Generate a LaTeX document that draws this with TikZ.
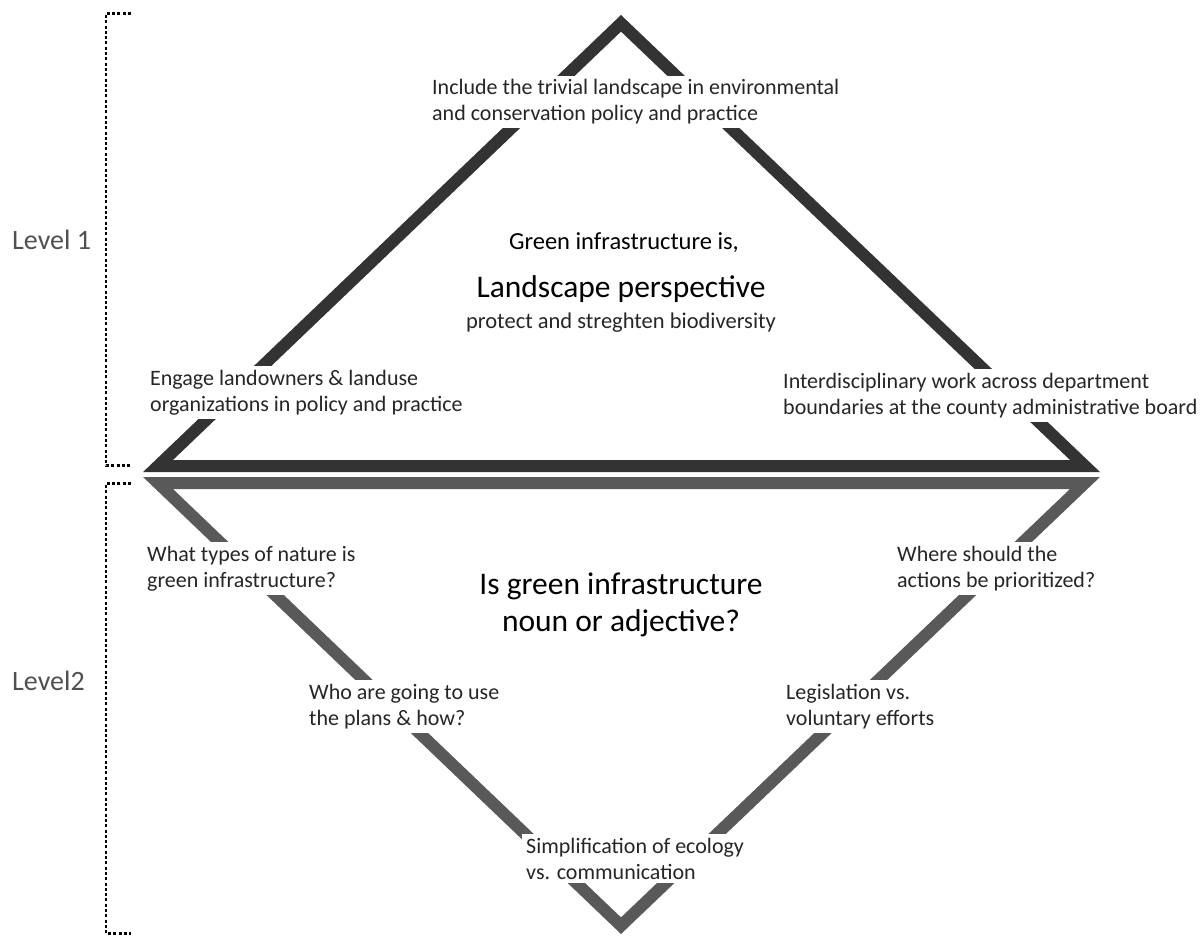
\documentclass[tikz,border=0pt]{standalone}
\usepackage{fontspec}
\setmainfont{Carlito}
\definecolor{topc}{HTML}{333333}
\definecolor{botc}{HTML}{595959}
\definecolor{txtc}{HTML}{262626}
\definecolor{lvlc}{HTML}{505050}
\begin{document}
\begin{tikzpicture}[x=1pt,y=-1pt,
  tri/.style={line width=12pt, line join=miter, miter limit=20},
  txt/.style={font=\fontsize{22}{25.5}\selectfont, text=txtc, align=left, fill=white, inner sep=4pt, anchor=base west},
  big/.style={font=\fontsize{31.5}{37}\selectfont, text=black, align=center, anchor=base},
  lvl/.style={font=\fontsize{28}{32}\selectfont, text=lvlc, anchor=base west, inner sep=0pt},
  brk/.style={line width=2.8pt, dash pattern=on 3pt off 2.3pt, black}]
\useasboundingbox (0,0) rectangle (1203,936);
% triangles
\coordinate (TA) at (621,23.3);
\coordinate (TL) at (158,466);
\coordinate (TR) at (1085,466);
\coordinate (BA) at (621,925.7);
\coordinate (BL) at (158,483);
\coordinate (BR) at (1085,483);
\draw[tri, topc] (TA) -- (TR) -- (TL) -- cycle;
\draw[tri, botc] (BA) -- (BL) -- (BR) -- cycle;
% brackets
\coordinate (L1a) at (131,13.5);
\coordinate (L1b) at (106,13.5);
\coordinate (L1c) at (106,465.5);
\coordinate (L1d) at (131,465.5);
\coordinate (L2a) at (131,483.5);
\coordinate (L2b) at (106,483.5);
\coordinate (L2c) at (106,933.5);
\coordinate (L2d) at (131,933.5);
\draw[brk] (L1a) -- (L1b) -- (L1c) -- (L1d);
\draw[brk] (L2a) -- (L2b) -- (L2c) -- (L2d);
\node[lvl] (lev1) at (12,250) {Level 1};
\node[lvl] (lev2) at (12,690) {Level2};
% texts level 1
\node[txt] (t1) at (428,120.5) {Include the trivial landscape in environmental\\and conservation policy and practice};
\node[txt] (t2) at (146,411) {Engage landowners \& landuse\\organizations in policy and practice};
\node[txt] (t3) at (779,414) {Interdisciplinary work across department\\boundaries at the county administrative board};
\node[font=\fontsize{24.5}{28}\selectfont, text=black, anchor=base] (gi) at (624,250) {Green infrastructure is,};
\node[big] (lp) at (621,298) {Landscape perspective};
\node[font=\fontsize{22.5}{27}\selectfont, text=txtc, anchor=base] (pr) at (621,328) {protect and streghten biodiversity};
% texts level 2
\node[txt] (b1) at (143,587) {What types of nature is\\green infrastructure?};
\node[txt] (b2) at (893,587) {Where should the\\actions be prioritized?};
\node[big] (q) at (621,631) {Is green infrastructure\\noun or adjective?};
\node[txt] (b3) at (305,725) {Who are going to use\\the plans \& how?};
\node[txt] (b4) at (782,725) {Legislation vs.\\voluntary efforts};
\node[txt] (b5) at (522,879) {Simplification of ecology\\vs. communication};
\end{tikzpicture}
\end{document}
